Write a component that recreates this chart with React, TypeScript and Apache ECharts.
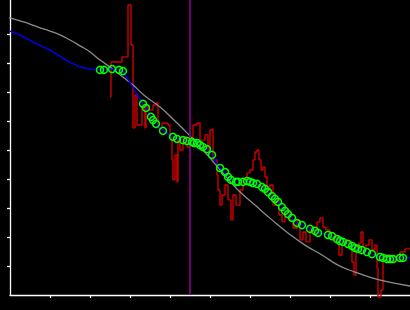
import React, { useEffect, useRef } from "react";
import * as echarts from "echarts";

const tickValues = [1, 2, 3, 4, 5, 6, 7, 8, 9];

const greyCurve: number[][] = [
  [-0.25, 9.62], [0, 9.55], [0.25, 9.45], [0.5, 9.34], [0.75, 9.21], [1, 9.1],
  [1.25, 8.97], [1.5, 8.79], [1.75, 8.59], [2, 8.38], [2.25, 8.1], [2.5, 7.86],
  [2.75, 7.59], [3.075, 7.24], [3.375, 6.86], [3.75, 6.48], [4.125, 6.0],
  [4.425, 5.59], [4.825, 5.0], [5.3, 4.24], [5.7, 3.62], [6.125, 3.1],
  [6.55, 2.59], [6.95, 2.14], [7.375, 1.72], [7.8, 1.38], [8.2, 1.03],
  [8.625, 0.79], [9.05, 0.59], [9.45, 0.45], [10, 0.31],
];

const blueLead: number[][] = [
  [0, 9.1], [0.25, 8.97], [0.575, 8.72], [1, 8.45], [1.425, 8.07], [1.75, 7.86], [2, 7.79],
];

const circlePoints: number[][] = [
  [2.25, 7.76], [2.35, 7.76], [2.55, 7.79], [2.725, 7.76], [2.825, 7.72],
  [3.325, 6.59], [3.4, 6.45], [3.525, 6.14], [3.575, 6.03], [3.65, 5.9],
  [3.825, 5.66], [4.075, 5.45], [4.175, 5.38], [4.325, 5.34], [4.425, 5.31],
  [4.55, 5.28], [4.6, 5.24], [4.675, 5.24], [4.75, 5.17], [4.825, 5.1],
  [4.925, 5.03], [5.05, 4.83], [5.25, 4.38], [5.375, 4.24], [5.45, 4.07],
  [5.525, 3.97], [5.65, 3.9], [5.7, 3.9], [5.825, 3.9], [5.925, 3.93],
  [6.0, 3.9], [6.075, 3.86], [6.175, 3.83], [6.3, 3.72], [6.375, 3.66],
  [6.45, 3.55], [6.55, 3.41], [6.625, 3.31], [6.7, 3.21], [6.8, 3.03],
  [6.875, 2.9], [6.95, 2.79], [7.05, 2.66], [7.175, 2.48], [7.3, 2.41],
  [7.5, 2.28], [7.625, 2.21], [7.7, 2.14], [7.95, 2.07], [8.05, 2.03],
  [8.175, 1.93], [8.25, 1.86], [8.325, 1.83], [8.45, 1.76], [8.55, 1.69],
  [8.625, 1.62], [8.7, 1.59], [8.8, 1.55], [8.925, 1.48], [9.05, 1.41],
  [9.25, 1.31], [9.325, 1.28], [9.425, 1.24], [9.5, 1.24], [9.575, 1.24],
  [9.75, 1.28], [9.825, 1.28],
];

const blueTail: number[][] = [[10, 1.28]];

const redSteps: number[][] = [
  [2.5, 6.83], [2.525, 8.03], [2.8, 8.21], [2.95, 10.0], [3.025, 8.62], [3.075, 5.76],
  [3.125, 6.9], [3.175, 5.86], [3.3, 6.55], [3.375, 5.76], [3.4, 6.55], [3.45, 6.38],
  [3.575, 6.55], [3.65, 6.62], [3.7, 5.76], [3.8, 5.93], [3.95, 5.86], [4.0, 5.45],
  [4.05, 4.66], [4.075, 3.97], [4.125, 4.83], [4.175, 3.9], [4.2, 5.34], [4.25, 5.0],
  [4.325, 5.45], [4.425, 5.1], [4.5, 5.24], [4.575, 5.86], [4.675, 5.93], [4.75, 5.34],
  [4.875, 5.52], [4.95, 5.0], [5.0, 5.69], [5.05, 5.72], [5.075, 4.66], [5.175, 4.14],
  [5.2, 3.62], [5.25, 3.1], [5.3, 3.45], [5.375, 3.79], [5.45, 3.28], [5.525, 2.59],
  [5.575, 3.45], [5.65, 3.1], [5.75, 3.62], [5.825, 3.97], [5.925, 4.21], [6.0, 4.31],
  [6.075, 4.66], [6.125, 4.93], [6.175, 5.0], [6.225, 4.66], [6.275, 4.31], [6.325, 4.41],
  [6.375, 4.07], [6.425, 3.62], [6.5, 3.79], [6.575, 3.1], [6.65, 3.28], [6.725, 2.76],
  [6.8, 2.52], [6.875, 2.86], [7.0, 2.59], [7.075, 2.31], [7.175, 2.59], [7.25, 1.9],
  [7.325, 2.17], [7.4, 1.83], [7.5, 2.31], [7.575, 2.17], [7.675, 2.52], [7.75, 2.66],
  [7.825, 2.34], [7.9, 2.24], [8.0, 1.97], [8.075, 1.9], [8.15, 2.0], [8.225, 1.38],
  [8.3, 1.72], [8.375, 1.9], [8.475, 1.66], [8.55, 1.14], [8.6, 0.69], [8.65, 1.66],
  [8.725, 1.79], [8.775, 2.17], [8.825, 1.55], [8.9, 1.72], [8.975, 1.9], [9.05, 1.55],
  [9.125, 1.72], [9.175, 0.93], [9.2, -0.07], [9.275, 0.17], [9.325, 1.21], [9.4, 1.38],
  [9.5, 1.14], [9.625, 1.28], [9.75, 1.48], [9.875, 1.59], [10, 1.59],
];

const markerX = 4.5;
const xMin = 0;
const xMax = 10;
const yMin = 0;
const yMax = 10.17;

export default function App() {
  const ref = useRef<HTMLDivElement>(null);
  useEffect(() => {
    if (!ref.current) return;
    const chart = echarts.init(ref.current, null, { renderer: "svg" });
    const axisCommon = {
      type: "value" as const,
      interval: 1,
      axisLine: { show: true, onZero: false, lineStyle: { color: "#ffffff", width: 1.3 } },
      axisTick: {
        show: true,
        customValues: tickValues,
        length: 3,
        lineStyle: { color: "#ffffff", width: 1.3 },
      },
      axisLabel: { show: false },
      splitLine: { show: false },
    };
    chart.setOption({
      animation: false,
      backgroundColor: "#000000",
      grid: { left: 10, right: 0, top: 0, bottom: 15, containLabel: false },
      xAxis: { ...axisCommon, min: xMin, max: xMax },
      yAxis: { ...axisCommon, min: yMin, max: yMax },
      series: [
        {
          type: "line",
          data: redSteps,
          step: "end",
          showSymbol: false,
          clip: false,
          lineStyle: { color: "#cc0000", width: 1.4 },
          z: 1,
        },
        {
          type: "line",
          data: greyCurve,
          smooth: true,
          showSymbol: false,
          clip: false,
          lineStyle: { color: "#8c8c8c", width: 1.3 },
          z: 2,
        },
        {
          type: "line",
          data: [[markerX, yMin], [markerX, yMax]],
          showSymbol: false,
          clip: false,
          lineStyle: { color: "#800080", width: 1.8 },
          z: 3,
        },
        {
          type: "line",
          data: [...blueLead, ...circlePoints, ...blueTail],
          showSymbol: false,
          clip: false,
          lineStyle: { color: "#0000ff", width: 1.3 },
          z: 4,
        },
        {
          type: "scatter",
          data: circlePoints,
          symbol: "circle",
          symbolSize: 7,
          clip: false,
          itemStyle: { color: "rgba(0,0,0,0)", borderColor: "#00ff00", borderWidth: 1.5, opacity: 1 },
          z: 5,
        },
      ],
    });
    return () => chart.dispose();
  }, []);
  return (
    <div
      ref={ref}
      style={{ position: "fixed", left: 0, top: 0, width: 410, height: 310 }}
    />
  );
}
